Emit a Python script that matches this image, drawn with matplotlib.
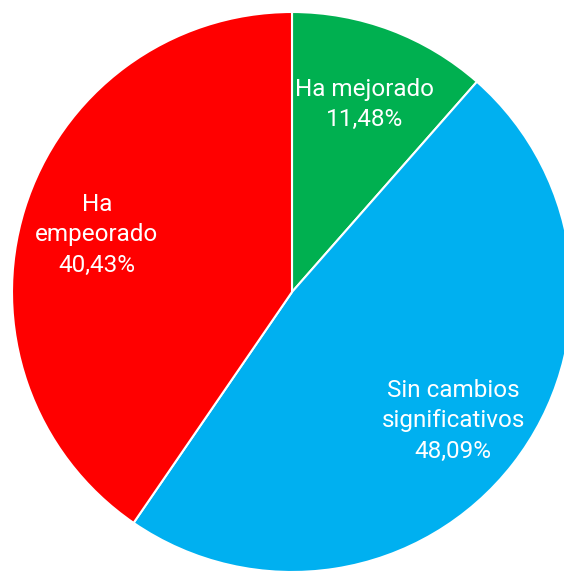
import matplotlib
matplotlib.use("agg")
import matplotlib.pyplot as plt
import numpy as np

categorias = ["Ha mejorado", "Sin cambios\nsignificativos", "Ha\nempeorado"]
valores = [11.48, 48.09, 40.43]
colores = ["#00B050", "#00B0F0", "#FF0000"]

plt.rcParams['font.family'] = ['Roboto', 'DejaVu Sans']

fig = plt.figure(figsize=(5.64, 5.72), dpi=100)
# el circulo sale un poco del borde derecho e inferior, como en la referencia
ax = fig.add_axes([12/564, 0.0, 560/564, 560/572])
wedges, _ = ax.pie(valores, colors=colores, startangle=90, counterclock=False,
                   wedgeprops=dict(edgecolor='white', linewidth=1.5))
ax.set_xlim(-1, 1)
ax.set_ylim(-1, 1)
ax.set_aspect('equal')

# etiquetas dentro de cada sector
for w, cat, v in zip(wedges, categorias, valores):
    ang = np.deg2rad((w.theta1 + w.theta2) / 2)
    r = 0.73
    txt = cat + "\n" + ("%.2f%%" % v).replace('.', ',')
    ax.text(r*np.cos(ang), r*np.sin(ang) - 0.012, txt, ha='center', va='center',
            color='white', fontsize=17.5, linespacing=1.4)

ax.axis('off')
fig.savefig("out.png", dpi=100)
